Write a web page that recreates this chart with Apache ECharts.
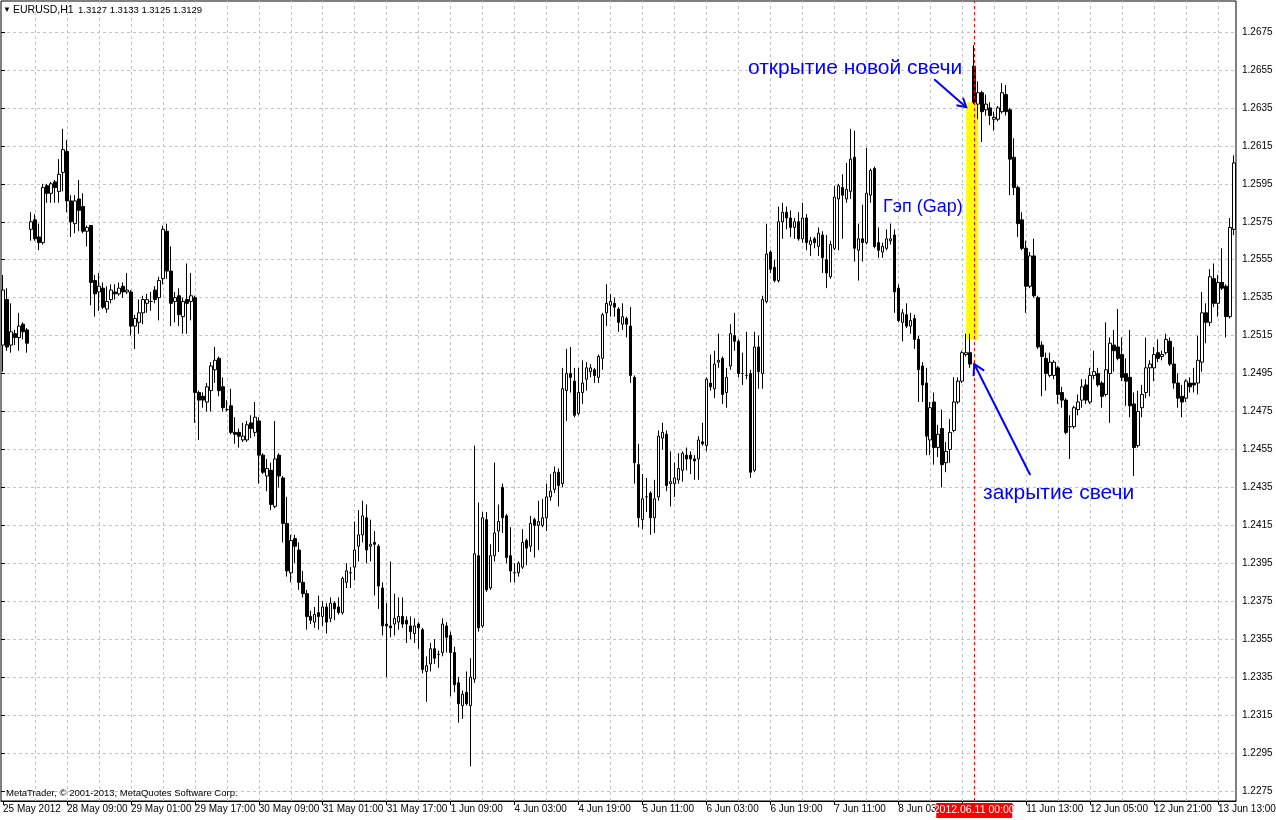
<!DOCTYPE html>
<html>
<head>
<meta charset="utf-8">
<script src="https://cdn.jsdelivr.net/npm/echarts@6/dist/echarts.min.js"></script>
<style>
html,body{margin:0;padding:0;background:#ffffff;}
#chart{width:1276px;height:820px;}
</style>
</head>
<body>
<div id="chart"></div>
<script>
// ---- trading sessions (date, first hour, last hour) -> hourly categories ----
const sessions = [
  ['2012.05.25', 15, 21], ['2012.05.28', 0, 23], ['2012.05.29', 0, 23], ['2012.05.30', 0, 23],
  ['2012.05.31', 0, 23], ['2012.06.01', 0, 21], ['2012.06.04', 0, 23], ['2012.06.05', 0, 23],
  ['2012.06.06', 0, 23], ['2012.06.07', 0, 23], ['2012.06.08', 0, 21], ['2012.06.11', 0, 23],
  ['2012.06.12', 0, 23], ['2012.06.13', 0, 17]
];
const categories = [];
sessions.forEach(([d, h0, h1]) => {
  for (let h = h0; h <= h1; h++) categories.push(d + ' ' + String(h).padStart(2, '0') + ':00');
});

// ---- OHLC values (EURUSD, H1) ----
const openP = [
1.2510,1.2534,1.2510,1.2516,1.2514,1.2521,1.2518,1.2571,1.2576,1.2567,
1.2564,1.2594,1.2590,1.2596,1.2591,1.2601,1.2612,1.2586,1.2574,1.2587,
1.2583,1.2570,1.2573,1.2544,1.2538,1.2540,1.2529,1.2534,1.2538,1.2537,
1.2541,1.2538,1.2538,1.2520,1.2522,1.2527,1.2532,1.2533,1.2539,1.2535,
1.2545,1.2570,1.2549,1.2533,1.2536,1.2525,1.2534,1.2533,1.2535,1.2485,
1.2483,1.2480,1.2486,1.2497,1.2503,1.2488,1.2476,1.2478,1.2464,1.2464,
1.2460,1.2460,1.2469,1.2464,1.2470,1.2452,1.2441,1.2444,1.2425,1.2452,
1.2440,1.2416,1.2390,1.2408,1.2402,1.2385,1.2379,1.2367,1.2364,1.2369,
1.2367,1.2372,1.2366,1.2374,1.2372,1.2369,1.2385,1.2390,1.2393,1.2404,
1.2410,1.2419,1.2404,1.2406,1.2404,1.2382,1.2363,1.2362,1.2363,1.2364,
1.2367,1.2365,1.2362,1.2358,1.2363,1.2360,1.2338,1.2342,1.2350,1.2347,
1.2348,1.2362,1.2357,1.2348,1.2332,1.2320,1.2327,1.2320,1.2334,1.2399,
1.2362,1.2418,1.2382,1.2399,1.2412,1.2435,1.2420,1.2399,1.2390,1.2390,
1.2393,1.2407,1.2404,1.2418,1.2415,1.2415,1.2419,1.2430,1.2434,1.2443,
1.2437,1.2486,1.2495,1.2491,1.2474,1.2485,1.2492,1.2496,1.2497,1.2493,
1.2503,1.2527,1.2531,1.2532,1.2529,1.2521,1.2524,1.2520,1.2493,1.2447,
1.2418,1.2430,1.2432,1.2419,1.2430,1.2461,1.2463,1.2437,1.2437,1.2439,
1.2444,1.2452,1.2452,1.2450,1.2450,1.2459,1.2457,1.2490,1.2487,1.2501,
1.2503,1.2485,1.2499,1.2515,1.2512,1.2495,1.2494,1.2495,1.2444,1.2509,
1.2495,1.2533,1.2559,1.2551,1.2544,1.2575,1.2580,1.2577,1.2572,1.2575,
1.2566,1.2577,1.2563,1.2566,1.2562,1.2568,1.2555,1.2546,1.2561,1.2587,
1.2593,1.2587,1.2591,1.2609,1.2560,1.2566,1.2564,1.2589,1.2603,1.2564,
1.2559,1.2561,1.2565,1.2568,1.2540,1.2522,1.2526,1.2520,1.2524,1.2513,
1.2499,1.2490,1.2460,1.2480,1.2456,1.2466,1.2448,1.2455,1.2465,1.2480,
1.2491,1.2505,1.2506,1.2657,1.2637,1.2643,1.2634,1.2635,1.2629,1.2629,
1.2633,1.2642,1.2634,1.2609,1.2593,1.2576,1.2561,1.2541,1.2557,1.2535,
1.2510,1.2503,1.2494,1.2494,1.2498,1.2485,1.2481,1.2467,1.2467,1.2476,
1.2481,1.2489,1.2480,1.2494,1.2495,1.2490,1.2484,1.2495,1.2510,1.2509,
1.2505,1.2495,1.2493,1.2479,1.2457,1.2477,1.2485,1.2498,1.2498,1.2506,
1.2504,1.2506,1.2512,1.2500,1.2490,1.2483,1.2482,1.2490,1.2490,1.2490,
1.2501,1.2527,1.2522,1.2545,1.2532,1.2543,1.2541,1.2525,1.2571
];
const highP = [
1.2547,1.2540,1.2532,1.2518,1.2527,1.2522,1.2519,1.2580,1.2579,1.2574,
1.2595,1.2595,1.2596,1.2597,1.2608,1.2624,1.2618,1.2589,1.2589,1.2597,
1.2590,1.2573,1.2573,1.2547,1.2548,1.2543,1.2541,1.2542,1.2542,1.2543,
1.2543,1.2548,1.2539,1.2526,1.2534,1.2536,1.2537,1.2538,1.2541,1.2546,
1.2573,1.2574,1.2562,1.2538,1.2540,1.2535,1.2553,1.2548,1.2536,1.2486,
1.2485,1.2490,1.2501,1.2509,1.2504,1.2493,1.2481,1.2487,1.2472,1.2466,
1.2469,1.2470,1.2473,1.2480,1.2472,1.2453,1.2450,1.2448,1.2470,1.2453,
1.2441,1.2430,1.2410,1.2410,1.2406,1.2391,1.2381,1.2370,1.2372,1.2378,
1.2375,1.2374,1.2377,1.2375,1.2377,1.2388,1.2395,1.2393,1.2417,1.2423,
1.2428,1.2426,1.2418,1.2412,1.2405,1.2385,1.2374,1.2396,1.2379,1.2377,
1.2377,1.2367,1.2367,1.2366,1.2364,1.2361,1.2346,1.2353,1.2355,1.2349,
1.2366,1.2364,1.2359,1.2351,1.2335,1.2328,1.2338,1.2345,1.2457,1.2427,
1.2422,1.2422,1.2405,1.2448,1.2426,1.2437,1.2421,1.2414,1.2395,1.2396,
1.2413,1.2408,1.2420,1.2419,1.2428,1.2429,1.2437,1.2442,1.2446,1.2445,
1.2498,1.2508,1.2509,1.2498,1.2498,1.2502,1.2501,1.2500,1.2498,1.2505,
1.2527,1.2542,1.2537,1.2535,1.2530,1.2532,1.2525,1.2530,1.2494,1.2458,
1.2442,1.2440,1.2433,1.2439,1.2465,1.2469,1.2465,1.2454,1.2448,1.2453,
1.2454,1.2456,1.2454,1.2452,1.2462,1.2469,1.2493,1.2505,1.2507,1.2516,
1.2504,1.2498,1.2521,1.2527,1.2513,1.2506,1.2517,1.2497,1.2517,1.2515,
1.2536,1.2574,1.2560,1.2555,1.2583,1.2585,1.2583,1.2581,1.2577,1.2580,
1.2585,1.2579,1.2567,1.2567,1.2572,1.2570,1.2568,1.2565,1.2594,1.2595,
1.2600,1.2606,1.2624,1.2623,1.2574,1.2584,1.2614,1.2603,1.2604,1.2572,
1.2564,1.2571,1.2574,1.2571,1.2542,1.2529,1.2532,1.2527,1.2526,1.2515,
1.2501,1.2498,1.2480,1.2485,1.2468,1.2476,1.2459,1.2471,1.2493,1.2493,
1.2507,1.2516,1.2516,1.2668,1.2649,1.2644,1.2642,1.2638,1.2633,1.2636,
1.2648,1.2647,1.2635,1.2619,1.2594,1.2580,1.2565,1.2559,1.2566,1.2536,
1.2512,1.2506,1.2506,1.2502,1.2499,1.2488,1.2482,1.2473,1.2478,1.2484,
1.2492,1.2492,1.2498,1.2507,1.2498,1.2491,1.2522,1.2514,1.2518,1.2529,
1.2514,1.2503,1.2518,1.2485,1.2486,1.2489,1.2514,1.2502,1.2509,1.2513,
1.2507,1.2516,1.2514,1.2509,1.2495,1.2489,1.2492,1.2493,1.2498,1.2515,
1.2538,1.2532,1.2550,1.2553,1.2547,1.2561,1.2542,1.2577,1.2610
];
const lowP = [
1.2496,1.2507,1.2506,1.2510,1.2507,1.2513,1.2506,1.2565,1.2565,1.2560,
1.2563,1.2585,1.2585,1.2585,1.2585,1.2591,1.2580,1.2567,1.2569,1.2570,
1.2569,1.2562,1.2531,1.2525,1.2528,1.2529,1.2527,1.2532,1.2534,1.2536,
1.2535,1.2537,1.2515,1.2508,1.2516,1.2521,1.2527,1.2528,1.2532,1.2523,
1.2542,1.2545,1.2520,1.2522,1.2520,1.2516,1.2516,1.2523,1.2469,1.2460,
1.2477,1.2475,1.2475,1.2490,1.2483,1.2475,1.2475,1.2463,1.2458,1.2456,
1.2459,1.2459,1.2461,1.2462,1.2437,1.2442,1.2433,1.2423,1.2424,1.2435,
1.2406,1.2388,1.2385,1.2395,1.2381,1.2377,1.2360,1.2363,1.2361,1.2360,
1.2362,1.2358,1.2364,1.2365,1.2368,1.2368,1.2382,1.2382,1.2386,1.2396,
1.2406,1.2395,1.2396,1.2378,1.2371,1.2357,1.2335,1.2356,1.2357,1.2360,
1.2361,1.2353,1.2355,1.2353,1.2350,1.2337,1.2322,1.2338,1.2342,1.2340,
1.2346,1.2348,1.2325,1.2327,1.2311,1.2313,1.2320,1.2288,1.2332,1.2359,
1.2361,1.2380,1.2381,1.2396,1.2401,1.2411,1.2395,1.2385,1.2385,1.2388,
1.2392,1.2394,1.2401,1.2398,1.2402,1.2414,1.2412,1.2428,1.2432,1.2425,
1.2435,1.2470,1.2485,1.2472,1.2473,1.2479,1.2486,1.2493,1.2490,1.2490,
1.2497,1.2520,1.2525,1.2525,1.2517,1.2518,1.2514,1.2490,1.2437,1.2414,
1.2413,1.2422,1.2410,1.2411,1.2428,1.2455,1.2433,1.2425,1.2430,1.2437,
1.2438,1.2444,1.2442,1.2439,1.2439,1.2457,1.2454,1.2486,1.2482,1.2498,
1.2479,1.2477,1.2497,1.2507,1.2493,1.2489,1.2492,1.2440,1.2443,1.2487,
1.2487,1.2532,1.2548,1.2543,1.2543,1.2566,1.2571,1.2567,1.2566,1.2565,
1.2564,1.2560,1.2557,1.2561,1.2557,1.2548,1.2540,1.2545,1.2560,1.2560,
1.2566,1.2585,1.2587,1.2554,1.2544,1.2554,1.2563,1.2585,1.2561,1.2556,
1.2556,1.2560,1.2563,1.2527,1.2522,1.2512,1.2519,1.2516,1.2508,1.2480,
1.2480,1.2452,1.2452,1.2447,1.2451,1.2435,1.2443,1.2448,1.2464,1.2479,
1.2490,1.2504,1.2498,1.2637,1.2629,1.2617,1.2631,1.2626,1.2623,1.2628,
1.2632,1.2631,1.2589,1.2589,1.2567,1.2560,1.2527,1.2540,1.2535,1.2508,
1.2483,1.2486,1.2493,1.2492,1.2479,1.2477,1.2463,1.2450,1.2466,1.2473,
1.2477,1.2479,1.2479,1.2492,1.2488,1.2477,1.2483,1.2469,1.2496,1.2502,
1.2491,1.2478,1.2472,1.2441,1.2456,1.2472,1.2482,1.2483,1.2491,1.2501,
1.2502,1.2505,1.2499,1.2487,1.2477,1.2472,1.2480,1.2485,1.2485,1.2484,
1.2496,1.2511,1.2520,1.2530,1.2525,1.2539,1.2514,1.2524,1.2568
];
const closeP = [
1.2539,1.2509,1.2517,1.2514,1.2520,1.2517,1.2511,1.2575,1.2566,1.2564,
1.2593,1.2590,1.2595,1.2593,1.2600,1.2613,1.2586,1.2575,1.2586,1.2581,
1.2570,1.2572,1.2543,1.2537,1.2541,1.2530,1.2533,1.2539,1.2537,1.2540,
1.2538,1.2539,1.2520,1.2524,1.2527,1.2534,1.2534,1.2533,1.2534,1.2544,
1.2571,1.2549,1.2532,1.2535,1.2526,1.2533,1.2532,1.2536,1.2485,1.2481,
1.2481,1.2488,1.2499,1.2502,1.2486,1.2477,1.2476,1.2464,1.2463,1.2462,
1.2462,1.2468,1.2466,1.2472,1.2452,1.2443,1.2445,1.2426,1.2450,1.2441,
1.2416,1.2391,1.2407,1.2404,1.2385,1.2379,1.2367,1.2365,1.2368,1.2367,
1.2372,1.2364,1.2374,1.2371,1.2369,1.2387,1.2391,1.2390,1.2402,1.2410,
1.2420,1.2402,1.2405,1.2405,1.2383,1.2362,1.2362,1.2361,1.2366,1.2367,
1.2363,1.2363,1.2359,1.2362,1.2361,1.2339,1.2341,1.2350,1.2345,1.2347,
1.2363,1.2356,1.2348,1.2331,1.2321,1.2326,1.2321,1.2335,1.2400,1.2361,
1.2419,1.2381,1.2399,1.2411,1.2417,1.2419,1.2398,1.2391,1.2390,1.2395,
1.2406,1.2403,1.2416,1.2415,1.2417,1.2419,1.2430,1.2433,1.2443,1.2436,
1.2487,1.2495,1.2493,1.2473,1.2485,1.2490,1.2498,1.2498,1.2494,1.2504,
1.2526,1.2532,1.2533,1.2530,1.2522,1.2525,1.2521,1.2494,1.2448,1.2419,
1.2429,1.2430,1.2419,1.2429,1.2462,1.2464,1.2436,1.2438,1.2440,1.2445,
1.2453,1.2450,1.2450,1.2449,1.2460,1.2458,1.2492,1.2488,1.2500,1.2502,
1.2484,1.2493,1.2516,1.2512,1.2495,1.2495,1.2494,1.2443,1.2509,1.2496,
1.2534,1.2558,1.2550,1.2544,1.2575,1.2580,1.2577,1.2572,1.2575,1.2566,
1.2577,1.2564,1.2565,1.2564,1.2569,1.2556,1.2548,1.2563,1.2588,1.2594,
1.2589,1.2592,1.2608,1.2561,1.2566,1.2564,1.2590,1.2602,1.2562,1.2560,
1.2562,1.2566,1.2566,1.2538,1.2523,1.2527,1.2520,1.2523,1.2513,1.2497,
1.2489,1.2462,1.2477,1.2456,1.2463,1.2447,1.2454,1.2464,1.2480,1.2491,
1.2506,1.2506,1.2500,1.2638,1.2643,1.2633,1.2637,1.2631,1.2630,1.2635,
1.2643,1.2633,1.2608,1.2593,1.2574,1.2561,1.2541,1.2557,1.2536,1.2509,
1.2504,1.2495,1.2501,1.2501,1.2484,1.2481,1.2464,1.2467,1.2477,1.2480,
1.2488,1.2481,1.2494,1.2496,1.2489,1.2483,1.2497,1.2511,1.2507,1.2503,
1.2493,1.2491,1.2478,1.2456,1.2475,1.2484,1.2498,1.2500,1.2505,1.2503,
1.2505,1.2513,1.2500,1.2490,1.2482,1.2480,1.2491,1.2488,1.2489,1.2502,
1.2527,1.2522,1.2546,1.2532,1.2543,1.2540,1.2525,1.2572,1.2606
];

// ---- axis / annotation values ----
const priceTicks = { min: 1.2275, max: 1.2675, step: 0.002 };
const gapIndex = 243;               // first bar after the weekend (2012.06.11 00:00)
const gapRange = [1.2513, 1.2638];  // highlighted gap (yellow)
const headerName = 'EURUSD,H1';
const headerQuote = '1.3127 1.3133 1.3125 1.3129';
const copyrightText = 'MetaTrader, \u00A9 2001-2013, MetaQuotes Software Corp.';
const crossLabel = '2012.06.11 00:00';
const notes = { open: 'открытие новой свечи', gap: 'Гэп (Gap)', close: 'закрытие свечи' };

const monthNames = { '05': 'May', '06': 'Jun' };
function tickLabel(cat, idx) {
  const parts = cat.split(' ');
  const dm = parts[0].split('.');
  if (idx === 0) return (+dm[2]) + ' ' + monthNames[dm[1]] + ' ' + dm[0];
  return (+dm[2]) + ' ' + monthNames[dm[1]] + ' ' + parts[1];
}

// layout: price grid lines from y=32 (1.2675) to y=791 (1.2275)
const plotTop = 1, plotH = 800, tickTop = 32, tickH = 759;
const perPx = (priceTicks.max - priceTicks.min) / tickH;
const yMax = priceTicks.max + (tickTop - plotTop) * perPx;
const yMin = priceTicks.min - (plotTop + plotH - tickTop - tickH) * perPx;

const candleData = categories.map((c, i) => [openP[i], closeP[i], lowP[i], highP[i]]);
const vLines = [];
for (let i = 8; i < categories.length; i += 8) vLines.push({ xAxis: categories[i] });

const FONT = '"Liberation Sans", Arial, sans-serif';
const gridDash = { color: '#c4c4c4', type: [3, 3], width: 1 };

const chart = echarts.init(document.getElementById('chart'), null, { renderer: 'canvas' });
chart.setOption({
  animation: false,
  backgroundColor: '#ffffff',
  grid: [
    { left: 1, top: plotTop, width: 1235, height: plotH, show: true, borderColor: '#000', borderWidth: 1,
      backgroundColor: 'rgba(0,0,0,0)', containLabel: false, outerBoundsMode: 'none' },
    { left: 1, top: tickTop, width: 1235, height: tickH, show: false, containLabel: false, outerBoundsMode: 'none' }
  ],
  xAxis: [
    {
      type: 'category', gridIndex: 0, data: categories, boundaryGap: true,
      axisLine: { show: true, lineStyle: { color: '#000', width: 1 } },
      axisTick: { show: true, alignWithLabel: true, interval: 15, length: 4, lineStyle: { color: '#000' } },
      axisLabel: { interval: 15, formatter: tickLabel, align: 'left', margin: 3, color: '#000', fontSize: 10, fontFamily: FONT, hideOverlap: false },
      splitLine: { show: false }
    },
    { type: 'value', gridIndex: 1, show: false, min: 0, max: 1 }
  ],
  yAxis: [
    { type: 'value', gridIndex: 0, min: yMin, max: yMax, show: false, splitLine: { show: false } },
    {
      type: 'value', gridIndex: 1, position: 'right',
      min: priceTicks.min, max: priceTicks.max, interval: priceTicks.step,
      axisLine: { show: false },
      axisTick: { show: true, length: 4, lineStyle: { color: '#000' } },
      axisLabel: { color: '#000', fontSize: 10, fontFamily: FONT, margin: 6, formatter: v => v.toFixed(4) },
      splitLine: { show: true, lineStyle: gridDash }
    }
  ],
  series: [
    {
      type: 'line', xAxisIndex: 0, yAxisIndex: 0, data: [], z: 1, silent: true,
      markLine: { z: 1, silent: true, symbol: ['none', 'none'], label: { show: false }, lineStyle: gridDash, data: vLines, animation: false }
    },
    {
      type: 'candlestick', xAxisIndex: 0, yAxisIndex: 0, data: candleData, barWidth: 3, z: 3,
      itemStyle: { color: '#ffffff', color0: '#000000', borderColor: '#000000', borderColor0: '#000000', borderColorDoji: '#000000', borderWidth: 1 },
      emphasis: { disabled: true }
    },
    {
      type: 'line', xAxisIndex: 0, yAxisIndex: 0, data: [], z: 6, silent: true,
      markLine: { z: 6, silent: true, symbol: ['none', 'none'], label: { show: false },
        lineStyle: { color: '#ff0000', type: [3, 3], width: 1 }, data: [{ xAxis: categories[gapIndex] }], animation: false }
    }
  ]
});

// ---- annotations anchored to data positions ----
const toPx = (i, v) => chart.convertToPixel({ xAxisIndex: 0, yAxisIndex: 0 }, [i, v]);
const pPrev = toPx(gapIndex - 1, gapRange[1]);
const pGap = toPx(gapIndex, gapRange[1]);
const pGapLow = toPx(gapIndex, gapRange[0]);
const pClose = toPx(gapIndex, closeP[gapIndex - 1]);
const BLUE = '#0000ff';

function arrow(x0, y0, x1, y1, len) {
  const a = Math.atan2(y0 - y1, x0 - x1), s = Math.PI / 6;
  return [
    { type: 'line', z: 20, shape: { x1: x0, y1: y0, x2: x1, y2: y1 }, style: { stroke: BLUE, lineWidth: 2 } },
    { type: 'polyline', z: 20, shape: { points: [[x1 + len * Math.cos(a + s), y1 + len * Math.sin(a + s)], [x1, y1], [x1 + len * Math.cos(a - s), y1 + len * Math.sin(a - s)]] },
      style: { stroke: BLUE, lineWidth: 2, fill: null } }
  ];
}
function txt(x, y, text, size, color, align, extra) {
  return Object.assign({ type: 'text', x: x, y: y, z: 20,
    style: { text: text, fill: color, font: size + 'px ' + FONT, align: align || 'left', verticalAlign: 'middle', textAlign: align || 'left', textVerticalAlign: 'middle' } }, extra || {});
}

const yLeft = pPrev[0] - 4, yRight = pGap[0] + 4;
const tip1 = [yLeft, pGap[1] + 5];
const tip2 = [pClose[0], pClose[1]];
const g = [];
g.push({ type: 'rect', z: 1, shape: { x: yLeft, y: pGap[1], width: yRight - yLeft, height: pGapLow[1] - pGap[1] }, style: { fill: '#ffff00' } });
g.push(...arrow(tip1[0] - 32, tip1[1] - 28, tip1[0], tip1[1], 10));
g.push(...arrow(tip2[0] + 56, tip2[1] + 111, tip2[0], tip2[1], 12));
g.push(txt(748, 68, notes.open, 21, BLUE));
g.push(txt(883, 207, notes.gap, 18, BLUE));
g.push(txt(983, 493, notes.close, 21, BLUE));
// header & copyright
g.push(txt(3, 10, '\u25BC', 8, '#000'));
g.push(txt(13, 10, headerName, 10.5, '#000'));
g.push(txt(78, 10, headerQuote, 9.5, '#000'));
g.push(txt(6, 793, copyrightText, 9.5, '#000'));
// crosshair time label
g.push({ type: 'rect', z: 30, shape: { x: pGap[0] - 38, y: 803, width: 76, height: 15 }, style: { fill: '#ff0000' } });
g.push(txt(pGap[0], 810.5, crossLabel, 10.5, '#ffffff', 'center', { z: 31 }));
chart.setOption({ graphic: g });
</script>
</body>
</html>
